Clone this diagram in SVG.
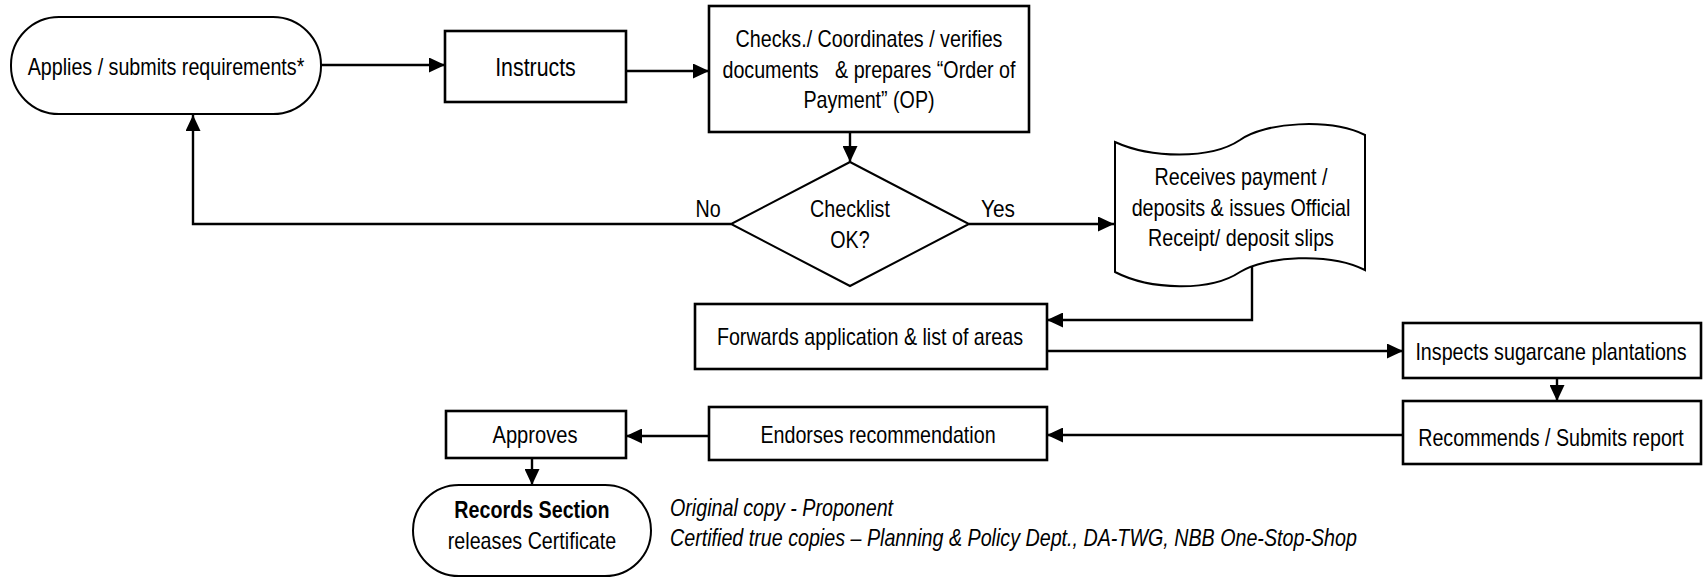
<svg xmlns="http://www.w3.org/2000/svg" width="1705" height="579" viewBox="0 0 1705 579">
<style>
text{font-family:"Liberation Sans",Arial,sans-serif;font-size:24px;fill:#000}
.c{text-anchor:middle}
.b{font-weight:bold}
.i{font-style:italic}
.box{fill:#fff;stroke:#000;stroke-width:2.6}
.term{fill:#fff;stroke:#000;stroke-width:2}
.conn{fill:none;stroke:#000;stroke-width:2.4}
</style>
<defs>
<marker id="ah" markerUnits="userSpaceOnUse" markerWidth="16" markerHeight="15" refX="16" refY="7.5" orient="auto">
<path d="M0,0 L16,7.5 L0,15 z" fill="#000"/>
</marker>
</defs>
<g id="connectors">
<path class="conn" d="M321,65 H445" marker-end="url(#ah)"/>
<path class="conn" d="M626,71 H709" marker-end="url(#ah)"/>
<path class="conn" d="M850,132 V162" marker-end="url(#ah)"/>
<path class="conn" d="M731,224 H193 V115" marker-end="url(#ah)"/>
<path class="conn" d="M969,224 H1114" marker-end="url(#ah)"/>
<path class="conn" d="M1252,266 V320 H1047" marker-end="url(#ah)"/>
<path class="conn" d="M1047,351 H1403" marker-end="url(#ah)"/>
<path class="conn" d="M1557,378 V401" marker-end="url(#ah)"/>
<path class="conn" d="M1403,435 H1047" marker-end="url(#ah)"/>
<path class="conn" d="M709,436 H626" marker-end="url(#ah)"/>
<path class="conn" d="M532,458 V485" marker-end="url(#ah)"/>
<text x="708" y="217" class="c" textLength="25.2" lengthAdjust="spacingAndGlyphs">No</text>
<text x="998" y="217" class="c" textLength="33.9" lengthAdjust="spacingAndGlyphs">Yes</text>
</g>
<g id="applies">
<rect class="term" x="11" y="17" width="310" height="97" rx="48" ry="48"/>
<text x="166" y="75" class="c" textLength="276.7" lengthAdjust="spacingAndGlyphs">Applies / submits requirements*</text>
</g>
<g id="instructs">
<rect class="box" x="445" y="31" width="181" height="71"/>
<text x="535.5" y="76" class="c" style="font-size:26px" textLength="80.6" lengthAdjust="spacingAndGlyphs">Instructs</text>
</g>
<g id="checks">
<rect class="box" x="709" y="6" width="320" height="126"/>
<text x="869" y="47" class="c" textLength="266.9" lengthAdjust="spacingAndGlyphs">Checks./ Coordinates / verifies</text>
<text x="869" y="78" class="c" xml:space="preserve" textLength="293.1" lengthAdjust="spacingAndGlyphs">documents   &amp; prepares “Order of</text>
<text x="869" y="108" class="c" textLength="131.2" lengthAdjust="spacingAndGlyphs">Payment” (OP)</text>
</g>
<g id="checklist">
<polygon class="term" points="850,162 969,224 850,286 731,224"/>
<text x="850" y="217" class="c" textLength="79.8" lengthAdjust="spacingAndGlyphs">Checklist</text>
<text x="850" y="248" class="c" textLength="39.4" lengthAdjust="spacingAndGlyphs">OK?</text>
</g>
<g id="receives">
<path class="term" d="M1115,142 C1150,158 1210,160 1240,140 C1265,122 1330,118 1365,135 L1365,270 C1330,252 1265,256 1240,272 C1210,292 1150,290 1115,272 Z"/>
<text x="1241" y="185" class="c" textLength="172.8" lengthAdjust="spacingAndGlyphs">Receives payment /</text>
<text x="1241" y="215.5" class="c" textLength="218.7" lengthAdjust="spacingAndGlyphs">deposits &amp; issues Official</text>
<text x="1241" y="246" class="c" textLength="185.9" lengthAdjust="spacingAndGlyphs">Receipt/ deposit slips</text>
</g>
<g id="forwards">
<rect class="box" x="695" y="304" width="352" height="65"/>
<text x="870" y="345" class="c" textLength="306.2" lengthAdjust="spacingAndGlyphs">Forwards application &amp; list of areas</text>
</g>
<g id="inspects">
<rect class="box" x="1403" y="323" width="298" height="55"/>
<text class="c" transform="translate(1551,360) scale(0.82,1)">Inspects sugarcane plantations</text>
</g>
<g id="recommends">
<rect class="box" x="1403" y="401" width="298" height="63"/>
<text class="c" transform="translate(1551,446) scale(0.82,1)">Recommends / Submits report</text>
</g>
<g id="endorses">
<rect class="box" x="709" y="407" width="338" height="53"/>
<text x="878" y="443" class="c" textLength="235.2" lengthAdjust="spacingAndGlyphs">Endorses recommendation</text>
</g>
<g id="approves">
<rect class="box" x="446" y="411" width="180" height="47"/>
<text x="535" y="443" class="c" textLength="85" lengthAdjust="spacingAndGlyphs">Approves</text>
</g>
<g id="records">
<rect class="term" x="413" y="485" width="238" height="91" rx="46" ry="46"/>
<text x="532" y="518" class="c b" textLength="155.3" lengthAdjust="spacingAndGlyphs">Records Section</text>
<text x="532" y="549" class="c" textLength="168.4" lengthAdjust="spacingAndGlyphs">releases Certificate</text>
</g>
<g id="notes">
<text x="670" y="516" class="i" textLength="223.1" lengthAdjust="spacingAndGlyphs">Original copy - Proponent</text>
<text x="670" y="546" class="i" textLength="686.9" lengthAdjust="spacingAndGlyphs">Certified true copies – Planning &amp; Policy Dept., DA-TWG, NBB One-Stop-Shop</text>
</g>
</svg>
